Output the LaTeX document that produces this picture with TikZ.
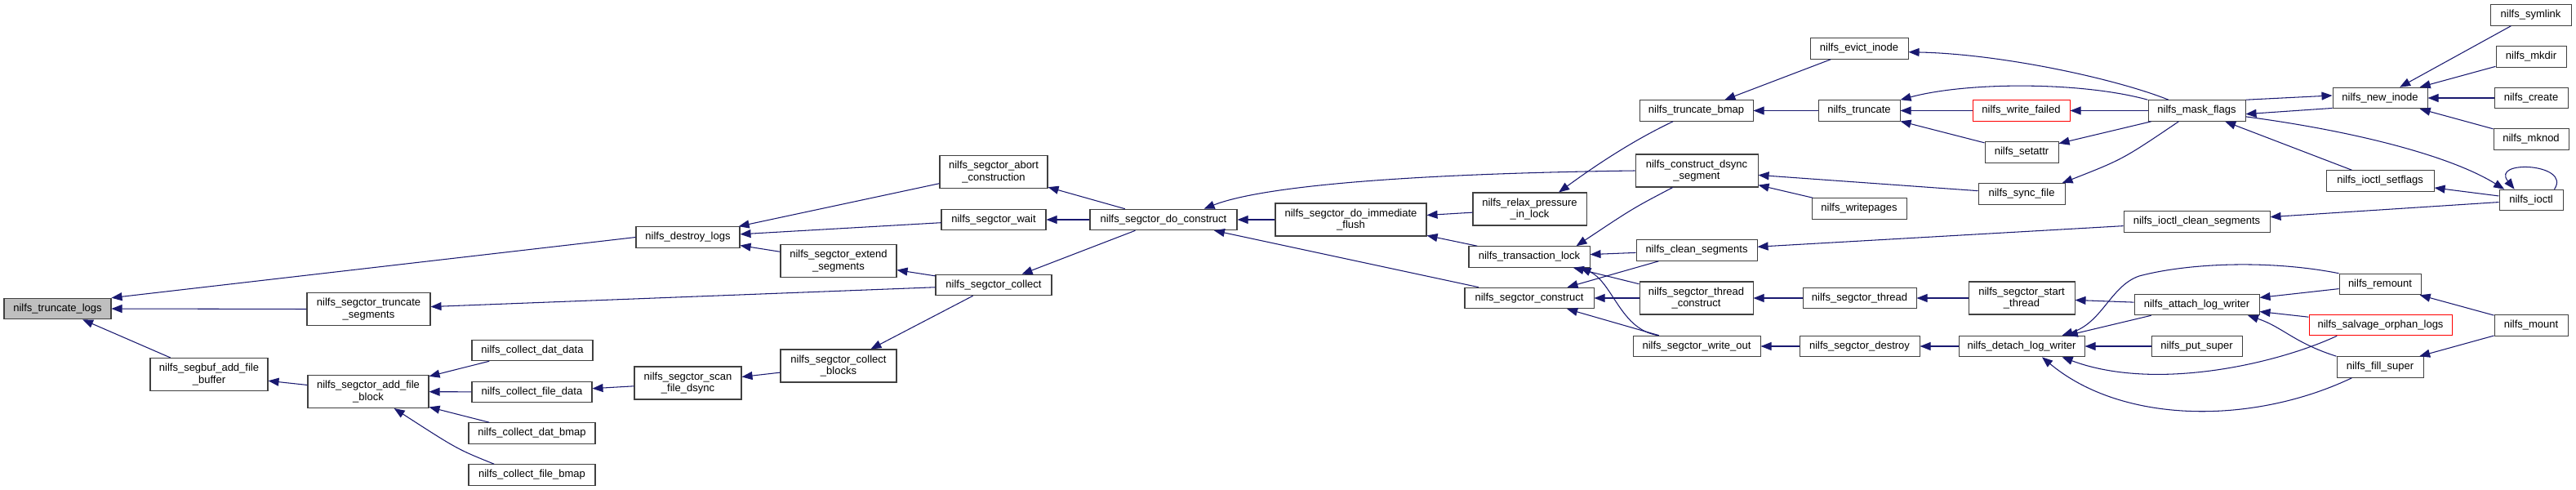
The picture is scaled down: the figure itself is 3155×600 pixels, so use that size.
\documentclass[tikz,border=0pt]{standalone}
\usepackage{fontspec}
\setmainfont{Liberation Sans}
\usepackage{tikz}
\usetikzlibrary{arrows.meta}
\definecolor{doxyBlue}{HTML}{191970}
\definecolor{doxyGrey}{HTML}{BFBFBF}
\definecolor{doxyRed}{HTML}{FF0000}
\definecolor{doxyLine}{HTML}{404040}

\begin{document}
\begin{tikzpicture}[
  x=0.2mm, y=-0.2mm,
  every node/.style={font=\fontsize{7.4}{8.3}\selectfont},
  fnbox/.style={
    rectangle, draw=doxyLine, line width=0.6pt, fill=white,
    inner sep=0pt, minimum width=#1*0.2mm, minimum height=5.1mm,
    align=center
  },
  fnbox2/.style={fnbox=#1, minimum height=8mm},
  rootbox/.style={fnbox=#1, fill=doxyGrey},
  cutbox/.style={fnbox=#1, draw=doxyRed},
  call/.style={
    doxyBlue, line width=0.6pt,
    -{Triangle[length=2.6mm, width=2mm]}
  },
]

% Page
\fill[white] (0,0) rectangle (3155,600);
\useasboundingbox (0,0) rectangle (3155,600);

% Root
\node[rootbox=131] (tlogs) at (70.5,378) {nilfs\_truncate\_logs};

% Left part
\node[fnbox2=144] (sbuf) at (256,458.5) {nilfs\_segbuf\_add\_file\\\_buffer};
\node[fnbox2=151] (trseg) at (451.5,378.5) {nilfs\_segctor\_truncate\\\_segments};
\node[fnbox2=148] (afblk) at (451,479.5) {nilfs\_segctor\_add\_file\\\_block};
\node[fnbox=148] (cdatd) at (652,429) {nilfs\_collect\_dat\_data};
\node[fnbox=147] (cfiled) at (651.5,480) {nilfs\_collect\_file\_data};
\node[fnbox=155] (cdatb) at (651.5,530.5) {nilfs\_collect\_dat\_bmap};
\node[fnbox=155] (cfileb) at (651.5,581.5) {nilfs\_collect\_file\_bmap};
\node[fnbox=127] (dlogs) at (842.5,290.5) {nilfs\_destroy\_logs};
\node[fnbox2=131] (scan) at (842.5,469) {nilfs\_segctor\_scan\\\_file\_dsync};
\node[fnbox2=142] (extend) at (1027,319.5) {nilfs\_segctor\_extend\\\_segments};
\node[fnbox2=142] (cblocks) at (1027,448) {nilfs\_segctor\_collect\\\_blocks};
\node[fnbox2=132] (abort) at (1217,210.5) {nilfs\_segctor\_abort\\\_construction};
\node[fnbox=128] (wait) at (1217,269) {nilfs\_segctor\_wait};
\node[fnbox=142] (collect) at (1217,349) {nilfs\_segctor\_collect};
\node[fnbox=180] (doconst) at (1425,269) {nilfs\_segctor\_do\_construct};
\node[fnbox2=185] (flush) at (1654.5,269) {nilfs\_segctor\_do\_immediate\\\_flush};

% Middle part
\node[fnbox2=139] (relax) at (1873.5,256) {nilfs\_relax\_pressure\\\_in\_lock};
\node[fnbox=148] (tlock) at (1873,314.5) {nilfs\_transaction\_lock};
\node[fnbox=158] (sconst) at (1873,365) {nilfs\_segctor\_construct};
\node[fnbox=139] (tbmap) at (2077.5,135.5) {nilfs\_truncate\_bmap};
\node[fnbox2=150] (dsync) at (2078,209) {nilfs\_construct\_dsync\\\_segment};
\node[fnbox=148] (clean) at (2078,306.5) {nilfs\_clean\_segments};
\node[fnbox2=139] (thcons) at (2077.5,365) {nilfs\_segctor\_thread\\\_construct};
\node[fnbox=156] (wout) at (2078,424) {nilfs\_segctor\_write\_out};
\node[fnbox=120] (evict) at (2277,59.5) {nilfs\_evict\_inode};
\node[fnbox=100] (trunc) at (2277,135.5) {nilfs\_truncate};
\node[fnbox=116] (wpages) at (2277,255.5) {nilfs\_writepages};
\node[fnbox=139] (sthread) at (2277.5,365) {nilfs\_segctor\_thread};
\node[fnbox=147] (sdestroy) at (2277.5,424) {nilfs\_segctor\_destroy};
\node[cutbox=119] (wfail) at (2475.5,135.5) {nilfs\_write\_failed};
\node[fnbox=90] (setattr) at (2476,186.5) {nilfs\_setattr};
\node[fnbox=106] (syncf) at (2476,237.5) {nilfs\_sync\_file};
\node[fnbox2=130] (start) at (2476,365) {nilfs\_segctor\_start\\\_thread};
\node[fnbox=154] (detach) at (2476,424) {nilfs\_detach\_log\_writer};

% Right part
\node[fnbox=119] (mask) at (2690.5,135.5) {nilfs\_mask\_flags};
\node[fnbox=179] (icseg) at (2690.5,271.5) {nilfs\_ioctl\_clean\_segments};
\node[fnbox=153] (attach) at (2690.5,373) {nilfs\_attach\_log\_writer};
\node[fnbox=111] (psuper) at (2690.5,424) {nilfs\_put\_super};
\node[fnbox=116] (newino) at (2915,120) {nilfs\_new\_inode};
\node[fnbox=132] (isetfl) at (2915,221.5) {nilfs\_ioctl\_setflags};
\node[fnbox=100] (remount) at (2915,348) {nilfs\_remount};
\node[cutbox=175] (salvage) at (2915.5,398) {nilfs\_salvage\_orphan\_logs};
\node[fnbox=106] (fsuper) at (2915,449.5) {nilfs\_fill\_super};
\node[fnbox=99] (symlink) at (3099.5,18.5) {nilfs\_symlink};
\node[fnbox=86] (mkdir) at (3100,69.5) {nilfs\_mkdir};
\node[fnbox=90] (create) at (3100,120) {nilfs\_create};
\node[fnbox=92] (mknod) at (3100,170.5) {nilfs\_mknod};
\node[fnbox=78] (ioctl) at (3100,245) {nilfs\_ioctl};
\node[fnbox=90] (mount) at (3100,398.5) {nilfs\_mount};

% Calls, left part
\draw[call] (dlogs.west) -- (tlogs.north east);
\draw[call] (trseg.west) -- (tlogs.east);
\draw[call] (sbuf) -- (tlogs);
\draw[call] (afblk) -- (sbuf);
\draw[call] (cdatd) -- (afblk);
\draw[call] (cfiled) -- (afblk);
\draw[call] (cdatb) -- (afblk);
\draw[call] (cfileb.164) .. controls (560,550) .. (afblk.-33);
\draw[call] (scan) -- (cfiled);
\draw[call] (cblocks) -- (scan);
\draw[call] (collect) -- (cblocks);
\draw[call] (abort) -- (dlogs);
\draw[call] (wait) -- (dlogs);
\draw[call] (extend) -- (dlogs);
\draw[call] (collect) -- (extend);
\draw[call] (collect) -- (trseg);
\draw[call] (doconst) -- (abort);
\draw[call] (doconst) -- (wait);
\draw[call] (doconst) -- (collect);
\draw[call] (flush) -- (doconst);
\draw[call] (sconst) -- (doconst);
\draw[call] (dsync.west) .. controls (1700,213) and (1540,230) .. (doconst.15);

% Calls, middle part
\draw[call] (relax) -- (flush);
\draw[call] (tlock) -- (flush);
\draw[call] (tbmap.-155) .. controls (2000,172) and (1955,202) .. (relax.30);
\draw[call] (dsync.-145) .. controls (2000,255) .. (tlock.13);
\draw[call] (clean) -- (tlock);
\draw[call] (thcons) -- (tlock);
\draw[call] (wout.164) .. controls (1985,405) and (1975,345) .. (tlock.-12);
\draw[call] (clean) -- (sconst);
\draw[call] (thcons) -- (sconst);
\draw[call] (wout) -- (sconst);
\draw[call] (evict) -- (tbmap);
\draw[call] (trunc) -- (tbmap);
\draw[call] (syncf) -- (dsync);
\draw[call] (wpages) -- (dsync);
\draw[call] (icseg) -- (clean);
\draw[call] (sthread) -- (thcons);
\draw[call] (sdestroy) -- (wout);
\draw[call] (wfail) -- (trunc);
\draw[call] (setattr) -- (trunc);
\draw[call] (start) -- (sthread);
\draw[call] (detach) -- (sdestroy);

% Calls, right part
\draw[call] (mask.159) .. controls (2590,96) and (2450,66) .. (evict.-4);
\draw[call] (mask.north west) .. controls (2550,100) and (2410,100) .. (trunc.north east);
\draw[call] (mask) -- (wfail);
\draw[call] (mask) -- (setattr);
\draw[call] (mask.-149) .. controls (2600,195) .. (syncf.15);
\draw[call] (attach) -- (start);
\draw[call] (remount.north west) .. controls (2780,318) and (2680,322) .. (2620,338)
  .. controls (2585,350) and (2575,395) .. (detach.15);
\draw[call] (attach) -- (detach);
\draw[call] (psuper) -- (detach);
\draw[call] (salvage.-166) .. controls (2790,445) and (2640,480) .. (detach.-15);
\draw[call] (fsuper.-159) .. controls (2760,520) and (2600,520) .. (detach.-28);
\draw[call] (remount) -- (attach);
\draw[call] (salvage) -- (attach);
\draw[call] (fsuper.north west) .. controls (2810,420) and (2795,400) .. (attach.-12);
\draw[call] (mount) -- (remount);
\draw[call] (mount) -- (fsuper);
\draw[call] (mask.north east) -- (newino.177);
\draw[call] (newino.-168) -- (mask.-4);
\draw[call] (symlink) -- (newino);
\draw[call] (mkdir) -- (newino);
\draw[call] (create) -- (newino);
\draw[call] (mknod) -- (newino);
\draw[call] (mask.-7) .. controls (2880,160) and (3000,190) .. (ioctl.158);
\draw[call] (ioctl) -- (isetfl);
\draw[call] (ioctl) -- (icseg);
\draw[call] (isetfl) -- (mask);
\draw[call] (ioctl.25) .. controls (3150,200) and (3050,195) .. (ioctl.147);

\end{tikzpicture}
\end{document}
